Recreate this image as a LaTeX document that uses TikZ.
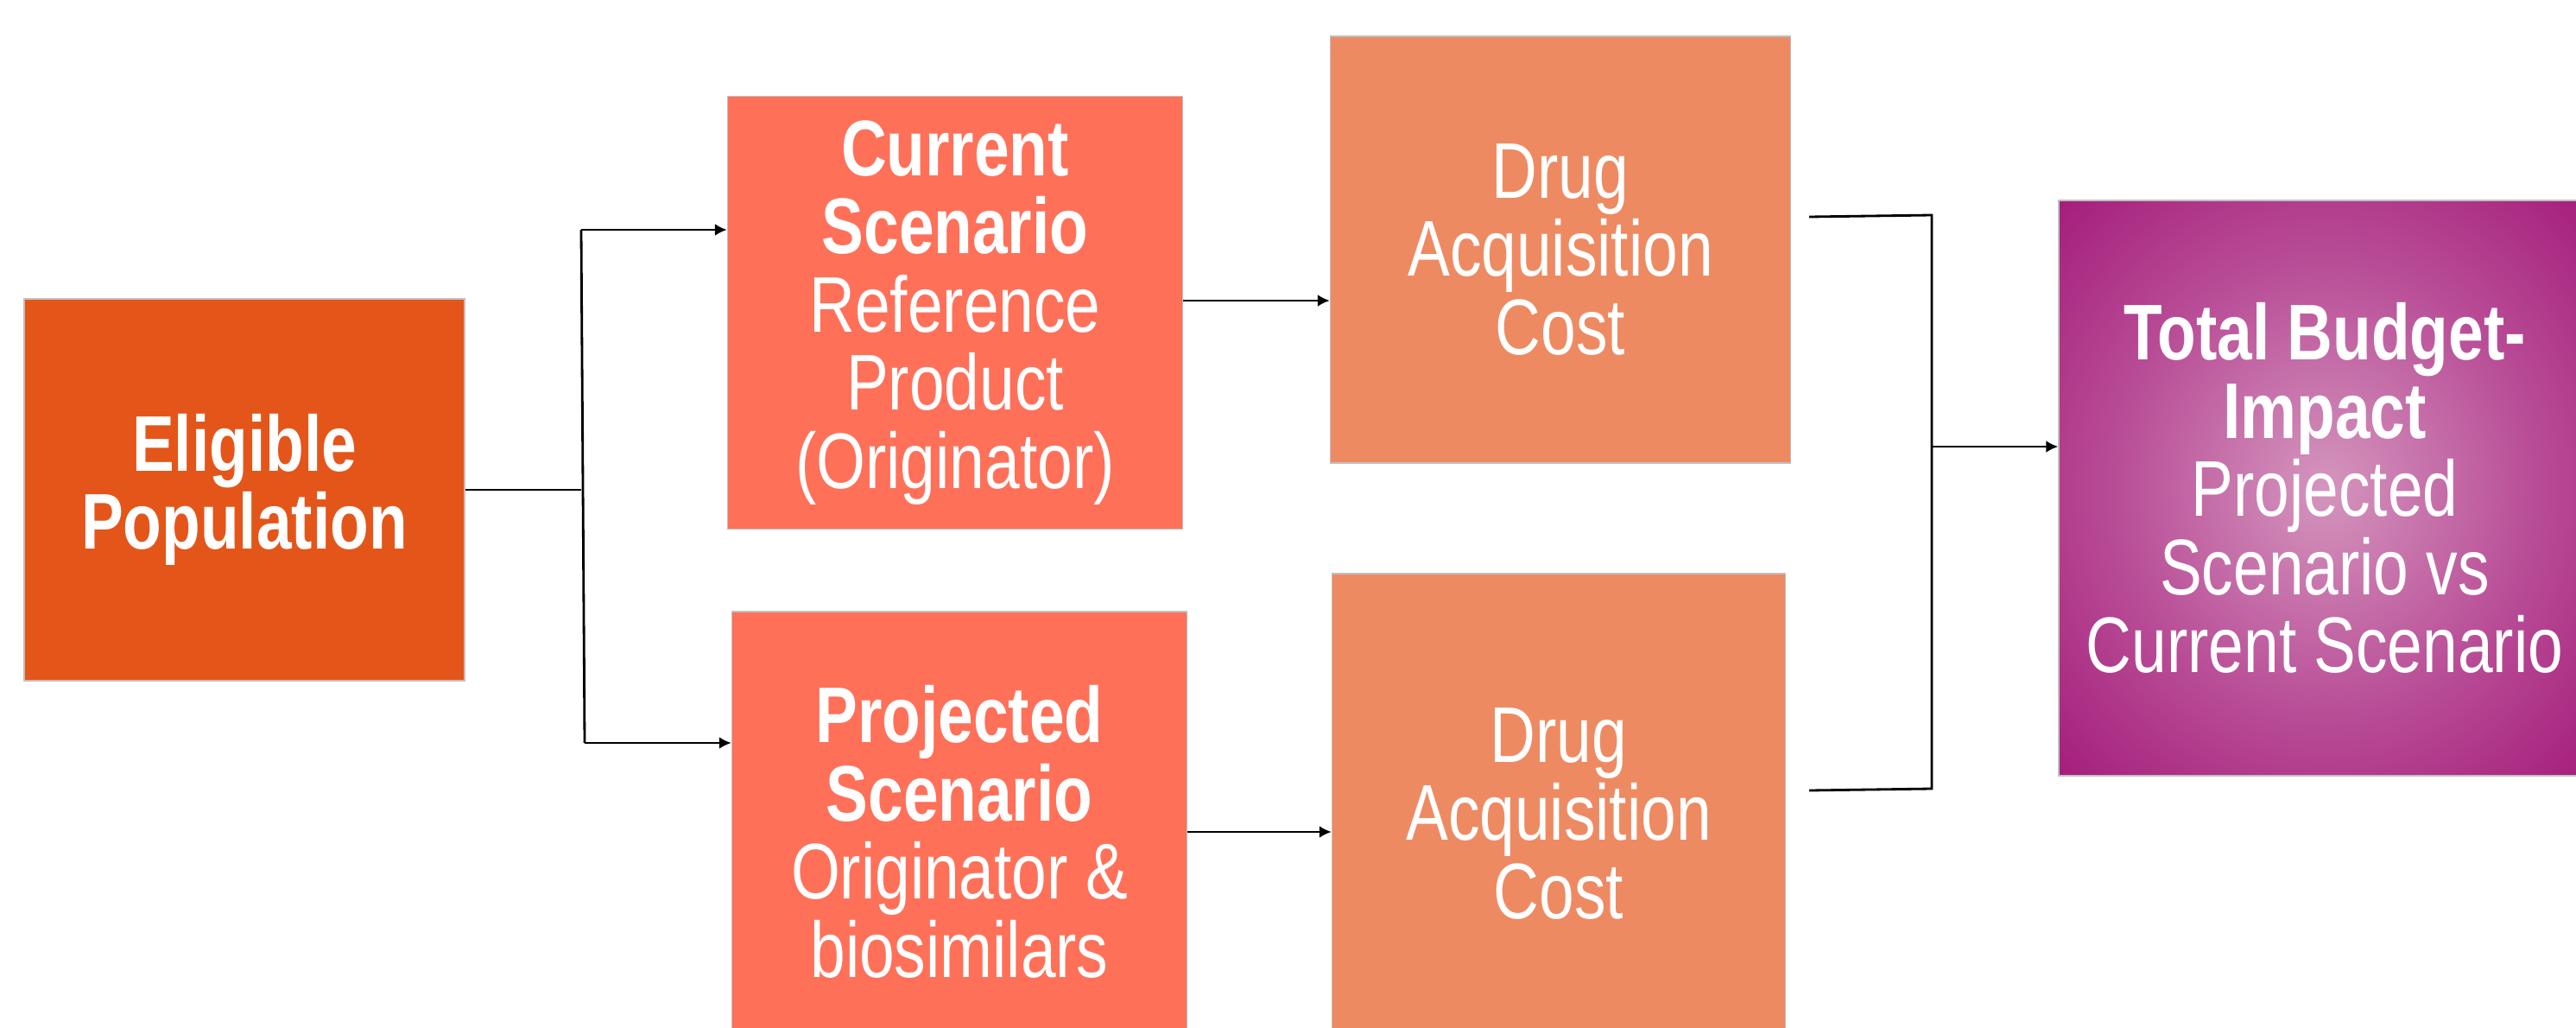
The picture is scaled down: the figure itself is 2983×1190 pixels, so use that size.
\documentclass[tikz,border=0pt]{standalone}
\usepackage{fontspec}
\setmainfont{Liberation Sans}[FakeStretch=0.8]
\usetikzlibrary{arrows.meta}

\definecolor{eligorange}{RGB}{228,85,26}
\definecolor{scenred}{RGB}{255,112,89}
\definecolor{costorange}{RGB}{238,138,98}
\definecolor{boxgray}{RGB}{192,192,192}
\definecolor{budgetlight}{RGB}{212,150,190}
\definecolor{budgetmid}{RGB}{184,76,150}
\definecolor{budgetdark}{RGB}{164,28,122}
\definecolor{budgetedge}{RGB}{155,10,112}
\pgfdeclareradialshading{budgetshade}{\pgfpointorigin}{color(0bp)=(budgetlight); color(20bp)=(budgetmid); color(36bp)=(budgetdark); color(50bp)=(budgetedge); color(71bp)=(budgetedge)}

\begin{document}
\begin{tikzpicture}[x=0.02cm, y=-0.02cm,
    box/.style={draw=boxgray, line width=0.8pt, inner sep=0pt, align=center, text=white,
        font=\fontsize{52}{51.5}\selectfont},
    link/.style={line width=1.6pt},
    arr/.style={link, -{Latex[length=8pt,width=8pt]}}]
        % Fix the page
        \clip (0,0) rectangle (2983,1190);
        % Draw the boxes
        \node[box, fill=eligorange, minimum width=10.2cm, minimum height=8.84cm] (elig) at (283,567) {\textbf{Eligible}\\\textbf{Population}};
        \node[box, fill=scenred, minimum width=10.54cm, minimum height=10.02cm] (cur) at (1106,362) {\textbf{Current}\\\textbf{Scenario}\\Reference\\Product\\(Originator)};
        \node[box, fill=scenred, minimum width=10.54cm, minimum height=10.2cm] (proj) at (1111,963) {\textbf{Projected}\\\textbf{Scenario}\\Originator \&\\biosimilars};
        \node[box, fill=costorange, minimum width=10.66cm, minimum height=9.88cm] (cost1) at (1807,289) {Drug\\Acquisition\\Cost};
        \node[box, fill=costorange, minimum width=10.5cm, minimum height=11.12cm] (cost2) at (1805,942) {Drug\\Acquisition\\Cost};
        \node[box, shading=budgetshade, minimum width=12.32cm, minimum height=13.32cm] (budget) at (2692,565) {\textbf{Total Budget-}\\\textbf{Impact}\\Projected\\Scenario vs\\Current Scenario};
        % Split the population into the two scenarios
        \coordinate (split) at (673,567);
        \coordinate (splitT) at (673,266);
        \coordinate (splitB) at (677,860);
        \draw[link] (elig.east) -- (split);
        \draw[link] (splitT) -- (splitB);
        \draw[arr] (splitT) -- (splitT -| cur.west);
        \draw[arr] (splitB) -- (splitB -| proj.west);
        % Scenarios to costs
        \draw[arr] ([yshift=0.28cm]cur.east) -- ([yshift=0.28cm]cur.east -| cost1.west);
        \draw[arr] (proj.east) -- (proj.east -| cost2.west);
        % Merge the costs into the budget impact
        \coordinate (costT) at (2095,251);
        \coordinate (costB) at (2095,915);
        \coordinate (mergeT) at (2237,249);
        \coordinate (mergeB) at (2237,913);
        \coordinate (merge) at (2237,517);
        \draw[link] (costT) -- (mergeT) -- (mergeB) -- (costB);
        \draw[arr] (merge) -- (merge -| budget.west);
    \end{tikzpicture}
\end{document}
